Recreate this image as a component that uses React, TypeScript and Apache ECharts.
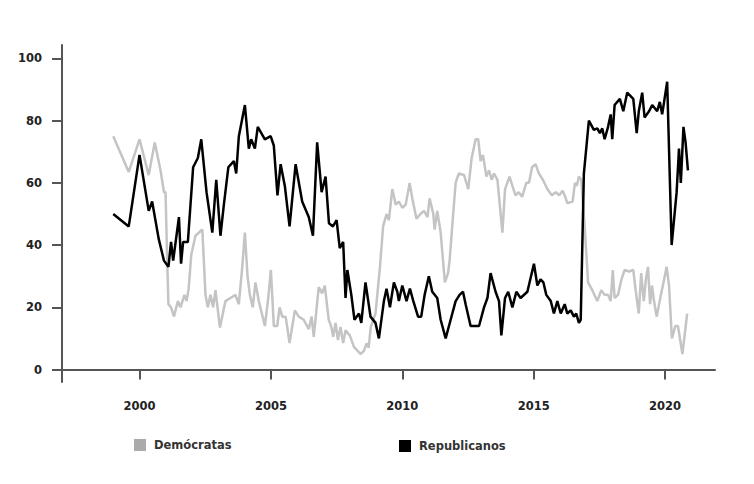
import React, { useEffect, useRef } from "react";
import * as echarts from "echarts";

const xTickValues = [2000, 2005, 2010, 2015, 2020];
const yTickValues = [0, 20, 40, 60, 80, 100];

const repYears = [1999.0, 1999.59, 2000.0, 2000.35, 2000.48, 2000.73, 2000.93, 2001.1, 2001.2, 2001.28, 2001.5, 2001.58, 2001.66, 2001.84, 2002.04, 2002.22, 2002.35, 2002.55, 2002.77, 2002.92, 2003.08, 2003.21, 2003.38, 2003.59, 2003.68, 2003.78, 2004.01, 2004.16, 2004.25, 2004.39, 2004.5, 2004.77, 2004.99, 2005.11, 2005.25, 2005.37, 2005.53, 2005.71, 2005.94, 2006.19, 2006.44, 2006.6, 2006.76, 2006.93, 2007.08, 2007.21, 2007.36, 2007.5, 2007.62, 2007.75, 2007.84, 2007.91, 2008.06, 2008.18, 2008.35, 2008.44, 2008.6, 2008.79, 2008.98, 2009.11, 2009.3, 2009.4, 2009.53, 2009.68, 2009.81, 2009.87, 2010.0, 2010.16, 2010.29, 2010.42, 2010.6, 2010.72, 2010.85, 2011.01, 2011.14, 2011.33, 2011.46, 2011.65, 2011.84, 2012.03, 2012.18, 2012.31, 2012.41, 2012.6, 2012.92, 2013.11, 2013.24, 2013.36, 2013.55, 2013.68, 2013.77, 2013.91, 2014.03, 2014.19, 2014.34, 2014.5, 2014.76, 2015.01, 2015.14, 2015.26, 2015.37, 2015.48, 2015.65, 2015.77, 2015.9, 2016.03, 2016.18, 2016.28, 2016.41, 2016.53, 2016.62, 2016.72, 2016.79, 2016.91, 2017.1, 2017.29, 2017.42, 2017.52, 2017.61, 2017.7, 2017.83, 2017.93, 2017.99, 2018.08, 2018.28, 2018.41, 2018.56, 2018.79, 2018.92, 2019.0, 2019.13, 2019.22, 2019.39, 2019.51, 2019.7, 2019.8, 2019.89, 2019.98, 2020.08, 2020.25, 2020.44, 2020.53, 2020.6, 2020.7, 2020.78, 2020.87];
const repValues = [50, 46, 69, 51, 54, 42, 35, 33, 41, 35, 49, 34, 41, 41, 65, 68, 74, 57, 44, 61, 43, 53, 65, 67, 63, 75, 85, 71, 74, 71, 78, 74, 75, 72, 56, 66, 59, 46, 66, 54, 49, 43, 73, 57, 62, 47, 46, 48, 39, 41, 23, 32, 24, 16, 18, 15, 28, 17, 15, 10, 22, 26, 20, 28, 25, 22, 27, 22, 26, 22, 17, 17, 24, 30, 25, 23, 16, 10, 16, 22, 24, 25, 21, 14, 14, 20, 23, 31, 25, 22, 11, 23, 25, 20, 25, 23, 25, 34, 27, 29, 28, 24, 22, 18, 22, 18, 21, 18, 19, 17, 18, 15, 16, 63, 80, 77, 77.5, 76, 77.5, 74, 78, 82, 74, 85, 87, 83, 89, 87, 76, 83, 89, 81, 83, 85, 83, 86, 82, 87, 92.5, 40, 57, 71, 60, 78, 73, 64];

const demYears = [1999.0, 1999.59, 2000.0, 2000.35, 2000.58, 2000.8, 2000.93, 2000.99, 2001.05, 2001.1, 2001.2, 2001.31, 2001.46, 2001.56, 2001.71, 2001.79, 2001.87, 2001.97, 2002.13, 2002.39, 2002.51, 2002.6, 2002.7, 2002.8, 2002.89, 2003.06, 2003.27, 2003.46, 2003.65, 2003.78, 2003.91, 2004.01, 2004.11, 2004.2, 2004.31, 2004.41, 2004.54, 2004.77, 2004.9, 2005.0, 2005.11, 2005.24, 2005.33, 2005.43, 2005.56, 2005.71, 2005.91, 2006.06, 2006.25, 2006.44, 2006.55, 2006.63, 2006.82, 2006.95, 2007.05, 2007.2, 2007.3, 2007.37, 2007.46, 2007.55, 2007.65, 2007.75, 2007.84, 2008.0, 2008.16, 2008.41, 2008.54, 2008.64, 2008.72, 2008.8, 2008.98, 2009.15, 2009.27, 2009.4, 2009.49, 2009.62, 2009.75, 2009.87, 2010.0, 2010.13, 2010.28, 2010.38, 2010.54, 2010.69, 2010.83, 2010.96, 2011.04, 2011.18, 2011.23, 2011.33, 2011.46, 2011.62, 2011.74, 2011.8, 2011.9, 2012.03, 2012.15, 2012.35, 2012.51, 2012.64, 2012.79, 2012.89, 2012.98, 2013.07, 2013.2, 2013.3, 2013.4, 2013.49, 2013.62, 2013.81, 2013.91, 2014.08, 2014.19, 2014.31, 2014.43, 2014.56, 2014.72, 2014.82, 2014.94, 2015.07, 2015.2, 2015.35, 2015.52, 2015.69, 2015.84, 2015.97, 2016.1, 2016.2, 2016.28, 2016.48, 2016.57, 2016.64, 2016.72, 2016.81, 2016.94, 2017.07, 2017.23, 2017.42, 2017.57, 2017.7, 2017.83, 2017.93, 2018.01, 2018.08, 2018.21, 2018.34, 2018.46, 2018.63, 2018.79, 2018.88, 2019.0, 2019.09, 2019.19, 2019.27, 2019.35, 2019.43, 2019.5, 2019.58, 2019.68, 2019.84, 2019.94, 2020.06, 2020.15, 2020.26, 2020.39, 2020.49, 2020.66, 2020.84];
const demValues = [75, 63.5, 74, 62.5, 73, 64, 57, 57, 36, 21, 20, 17, 22, 20, 24, 22, 26, 37, 43, 45, 24, 20, 24, 20, 25.5, 13.5, 22, 23, 24, 21, 33, 44, 30, 24, 20, 28, 22, 14, 23, 32, 14, 14, 20, 17, 17, 8.5, 19, 17, 16, 13, 17, 10.5, 26.5, 24.5, 27, 16, 13.7, 10.5, 15, 9.5, 13.7, 8.5, 12.6, 11, 7.3, 5, 6, 8.4, 7, 13.7, 18, 33, 46, 50, 48, 58, 53, 54, 52, 53, 60, 55, 48.5, 50, 51, 49, 55, 50, 45, 51, 44, 28, 31, 35, 46, 60, 63, 62.5, 58, 68, 74, 74, 67, 69, 62, 64, 61, 63, 61, 44, 58, 62, 59, 56, 57, 55.5, 60, 60, 65, 66, 63, 61, 58, 56, 57, 56, 57.5, 55.5, 53.5, 54, 60, 59, 62, 61, 46, 28, 25.5, 22, 25.5, 24, 24, 22, 32, 23, 24, 29, 32, 31.5, 32, 25.5, 18, 31, 22, 29, 33, 21, 27, 22, 17, 24, 28, 33, 27, 10, 14, 14, 5, 18];

const seriesNames = ["Demócratas", "Republicanos"];

export default function App() {
  const ref = useRef<HTMLDivElement>(null);
  useEffect(() => {
    if (!ref.current) return;
    const chart = echarts.init(ref.current, null, { renderer: "svg" });
    const font = "DejaVu Sans";
    const axisColor = "#555";
    const legendText = { fontFamily: font, fontSize: 11.5, fontWeight: "bold", color: "#333", padding: [0, 0, 0, 3] };
    chart.setOption({
      animation: false,
      backgroundColor: "#fff",
      textStyle: { fontFamily: font },
      grid: { left: 62, right: 39, top: 45, bottom: 102, outerBoundsMode: "none" },
      legend: [
        {
          left: 134,
          top: 439,
          itemWidth: 12,
          itemHeight: 12,
          icon: "rect",
          data: [{ name: seriesNames[0], itemStyle: { color: "#aaaaaa" } }],
          textStyle: legendText,
          padding: 0,
        },
        {
          left: 399,
          top: 440,
          itemWidth: 12,
          itemHeight: 12,
          icon: "rect",
          data: [{ name: seriesNames[1], itemStyle: { color: "#000" } }],
          textStyle: legendText,
          padding: 0,
        },
      ],
      xAxis: {
        type: "value",
        min: 1997.05,
        max: 2021.9,
        axisLine: { show: true, lineStyle: { color: axisColor, width: 2 } },
        axisTick: { show: true, customValues: xTickValues, length: 10, lineStyle: { color: axisColor, width: 2 } },
        axisLabel: {
          customValues: xTickValues,
          margin: 18,
          fontFamily: font,
          fontSize: 11.5,
          fontWeight: "bold",
          color: "#222",
          formatter: (v: number) => String(Math.round(v)),
        },
        splitLine: { show: false },
      },
      yAxis: {
        type: "value",
        min: -4,
        max: 104.3,
        axisLine: { show: true, lineStyle: { color: axisColor, width: 2 } },
        axisTick: { show: true, customValues: yTickValues, length: 10, lineStyle: { color: axisColor, width: 2 } },
        axisLabel: {
          customValues: yTickValues,
          margin: 20,
          fontFamily: font,
          fontSize: 11.5,
          fontWeight: "bold",
          color: "#222",
          formatter: (v: number) => String(Math.round(v)),
        },
        splitLine: { show: false },
      },
      series: [
        {
          name: seriesNames[0],
          type: "line",
          symbol: "none",
          data: demYears.map((y, i) => [y, demValues[i]]),
          lineStyle: { color: "#c4c4c4", width: 2.5 },
          itemStyle: { color: "#aaaaaa" },
          z: 2,
        },
        {
          name: seriesNames[1],
          type: "line",
          symbol: "none",
          data: repYears.map((y, i) => [y, repValues[i]]),
          lineStyle: { color: "#000", width: 2.5 },
          itemStyle: { color: "#000" },
          z: 3,
        },
      ],
    });
    return () => chart.dispose();
  }, []);
  return <div ref={ref} style={{ width: 754, height: 484, position: "absolute", left: 0, top: 0 }} />;
}
